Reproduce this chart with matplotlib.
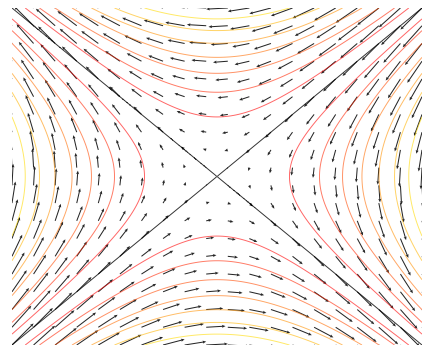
import numpy as np
import matplotlib
matplotlib.use("Agg")
import matplotlib.pyplot as plt

# domain of the saddle H(x, y) = x^2 - y^2
x_range = [-2.0, 2.0]
y_range = [-2.0, 2.0]
n_fine = 300          # grid for the contours
n_arrows = 20         # arrows per side

# |H| levels drawn as coloured curves, the separatrix H = 0 in black
abs_levels = [0.5, 1.0, 1.5, 2.0, 2.5, 3.0, 3.5, 4.0]
zero_level = [0.0]

x = np.linspace(x_range[0], x_range[1], n_fine)
y = np.linspace(y_range[0], y_range[1], n_fine)
X, Y = np.meshgrid(x, y)
H = X**2 - Y**2

xq = np.linspace(x_range[0], x_range[1], n_arrows)
yq = np.linspace(y_range[0], y_range[1], n_arrows)
XQ, YQ = np.meshgrid(xq, yq)
# flow tangent to the level sets of H
U = -YQ
V = -XQ

fig = plt.figure(figsize=(4.22, 3.51), dpi=100)
ax = fig.add_axes([12/422, 6/351, 410/422, 337/351])

ax.contour(X, Y, np.abs(H), levels=abs_levels, cmap='autumn', linewidths=0.7, alpha=0.6)
ax.contour(X, Y, H, levels=zero_level, colors='k', linewidths=0.7, alpha=0.8)
ax.quiver(XQ, YQ, U, V, color='k', alpha=0.85, scale=38, width=0.0025,
          headwidth=3, headlength=3.5, headaxislength=3)

ax.set_xlim(x_range)
ax.set_ylim(y_range)
ax.axis('off')

fig.savefig('out.png', dpi=100)
